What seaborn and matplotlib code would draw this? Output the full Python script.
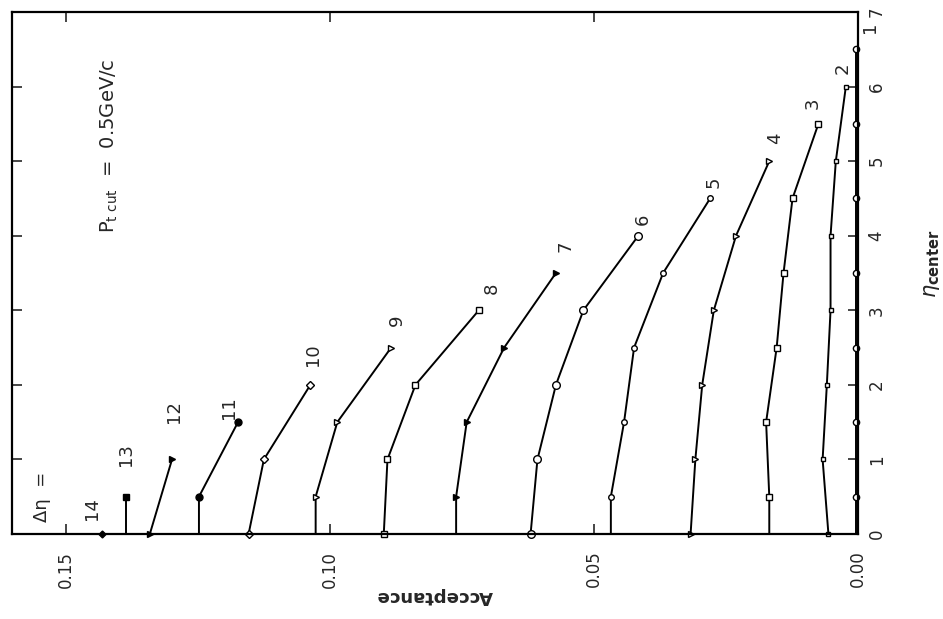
import matplotlib
matplotlib.use("Agg")
import matplotlib.pyplot as plt
import pandas as pd
import seaborn as sns

# Pseudorapidity centres: even windows sit on integer centres, odd windows on half-integers
# (the leading 0 of the odd grid only carries the line down to the axis).
ETA_EVEN = [0, 1, 2, 3, 4, 5, 6]
ETA_ODD = [0, 0.5, 1.5, 2.5, 3.5, 4.5, 5.5, 6.5]

# Acceptance for each window width Δη
ACC_1 = [0.0004, 0.0004, 0.0004, 0.0004, 0.0004, 0.0004, 0.0004, 0.0004]
ACC_2 = [0.0056, 0.0067, 0.0059, 0.0052, 0.0052, 0.0042, 0.0023]
ACC_3 = [0.0168, 0.0168, 0.0174, 0.0154, 0.0141, 0.0124, 0.0075]
ACC_4 = [0.0317, 0.0308, 0.0295, 0.0273, 0.0231, 0.0168]
ACC_5 = [0.0468, 0.0468, 0.0443, 0.0424, 0.0369, 0.0280]
ACC_6 = [0.0620, 0.0607, 0.0572, 0.0520, 0.0416]
ACC_7 = [0.0761, 0.0761, 0.0741, 0.0670, 0.0572]
ACC_8 = [0.0898, 0.0891, 0.0838, 0.0718]
ACC_9 = [0.1027, 0.1027, 0.0986, 0.0884]
ACC_10 = [0.1154, 0.1125, 0.1037]
ACC_11 = [0.1248, 0.1248, 0.1174]
ACC_12 = [0.1341, 0.1299]
ACC_13 = [0.1386, 0.1386]
ACC_14 = [0.1432]

WIDTHS = list(range(1, 15))
ACCEPTANCE = [ACC_1, ACC_2, ACC_3, ACC_4, ACC_5, ACC_6, ACC_7,
              ACC_8, ACC_9, ACC_10, ACC_11, ACC_12, ACC_13, ACC_14]

X_TICKS = [0.0, 0.05, 0.10, 0.15]
X_TICK_LABELS = ["0.00", "0.05", "0.10", "0.15"]
Y_TICKS = [0, 1, 2, 3, 4, 5, 6, 7]

# marker, size, face colour per window width
STYLES = {
    1: ("o", 4.5, "white"), 2: ("s", 3.2, "white"), 3: ("s", 4.5, "white"),
    4: (">", 4.0, "white"), 5: ("o", 4.0, "white"), 6: ("o", 5.5, "white"),
    7: (">", 5.0, "black"), 8: ("s", 5.0, "white"), 9: (">", 4.5, "white"),
    10: ("D", 4.0, "white"), 11: ("o", 5.0, "black"), 12: (">", 4.5, "black"),
    13: ("s", 5.0, "black"), 14: ("D", 3.5, "black"),
}

# where each Δη number is written (acceptance, η)
LABEL_POS = {
    1: (-0.0023, 6.80), 2: (0.0030, 6.25), 3: (0.0085, 5.78), 4: (0.0157, 5.31),
    5: (0.0273, 4.72), 6: (0.0407, 4.22), 7: (0.0553, 3.86), 8: (0.0693, 3.30),
    9: (0.0873, 2.86), 10: (0.1032, 2.40), 11: (0.1191, 1.70), 12: (0.1295, 1.64),
    13: (0.1386, 1.07), 14: (0.1451, 0.34),
}

rows = []
for w, acc in zip(WIDTHS, ACCEPTANCE):
    grid = ETA_EVEN if w % 2 == 0 else ETA_ODD
    for eta, a in zip(grid, acc):
        rows.append({"width": w, "eta": eta, "acc": a})
df = pd.DataFrame(rows)

sns.set_style("ticks")
plt.rcParams["font.family"] = ["DejaVu Sans"]
plt.rcParams["mathtext.fontset"] = "dejavusans"

fig = plt.figure(figsize=(9.43, 6.19), dpi=100)
ax = fig.add_axes([12 / 943, 1 - 534 / 619, 846 / 943, 522 / 619])

for w in WIDTHS:
    sub = df[df["width"] == w]
    marker, ms, face = STYLES[w]
    every = slice(None) if w % 2 == 0 else slice(1, None)
    sns.lineplot(data=sub, x="acc", y="eta", sort=False, estimator=None,
                 color="black", linewidth=1.4, marker=marker, markersize=ms,
                 markerfacecolor=face, markeredgecolor="black",
                 markeredgewidth=1.0, markevery=every, clip_on=False,
                 legend=False, ax=ax)
    lx, ly = LABEL_POS[w]
    ax.text(lx, ly, str(w), rotation=90, ha="center", va="center",
            fontsize=13, clip_on=False)

ax.text(0.1545, 0.50, "Δη  =", rotation=90, ha="center", va="center", fontsize=13)
ax.text(0.1417, 5.21, r"P$_{\rm t\ cut}$  =  0.5GeV/c", rotation=90,
        ha="center", va="center", fontsize=14)

ax.set_xlim(0.1602, 0.0)
ax.set_ylim(0, 7)
ax.set_xticks(X_TICKS)
ax.set_xticklabels(X_TICK_LABELS, rotation=90, fontsize=12)
ax.set_yticks(Y_TICKS)
ax.set_yticklabels([str(t) for t in Y_TICKS], rotation=90, fontsize=12,
                   va="center")
ax.yaxis.tick_right()
ax.tick_params(axis="both", which="both", direction="in", length=7, width=1.2,
               top=True, bottom=True, left=True, right=True,
               labelleft=False, labelright=True, labelbottom=True, labeltop=False)
ax.tick_params(axis="x", pad=12)
ax.tick_params(axis="y", pad=7)

for s in ax.spines.values():
    s.set_linewidth(1.6)
    s.set_color("black")

ax.set_xlabel("Acceptance", rotation=180, fontsize=13, fontweight="bold",
              ha="center", va="center")
ax.xaxis.set_label_coords(0.5, -0.119)
ax.yaxis.set_label_position("right")
ax.set_ylabel(r"$\eta_{\mathbf{center}}$", rotation=90, fontsize=15,
              ha="center", va="center")
ax.yaxis.set_label_coords(1.0875, 0.517)

fig.savefig("out.png", dpi=100, facecolor="white")
